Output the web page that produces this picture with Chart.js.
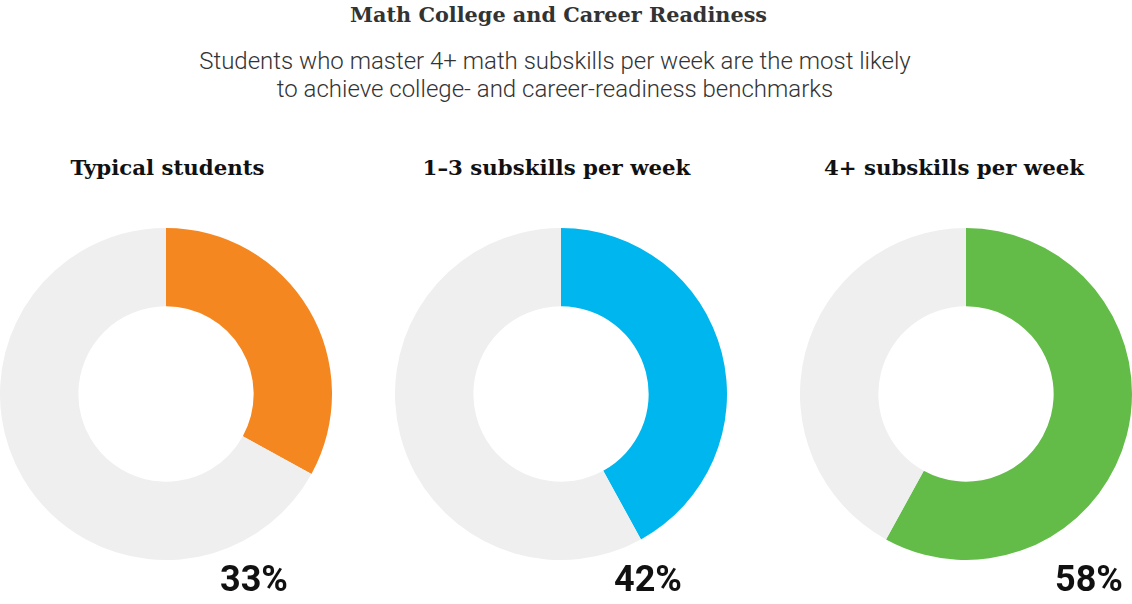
<!DOCTYPE html>
<html>
<head>
<meta charset="utf-8">
<script src="https://cdn.jsdelivr.net/npm/chart.js@4/dist/chart.umd.min.js"></script>
<style>
  html, body { margin: 0; padding: 0; background: #fff; }
  #wrap { position: relative; width: 1132px; height: 604px; overflow: hidden; }
  .title { position: absolute; left: 0; width: 1117px; top: 1px; text-align: center;
           font-family: "DejaVu Serif", serif; font-weight: bold; font-size: 20.8px; color: #333; line-height: 28px; }
  .sub { position: absolute; left: 0; width: 1110px; top: 47px; text-align: center;
         font-family: Roboto, sans-serif; font-weight: 300; font-size: 24px; color: #333; line-height: 28px; }
  .ctitle { position: absolute; top: 153px; width: 400px; text-align: center;
            font-family: "DejaVu Serif", serif; font-weight: bold; font-size: 21.3px; color: #111; line-height: 30px; }
  .pct { position: absolute; top: 558px; font-family: Roboto, sans-serif; font-weight: 700;
         font-size: 36px; color: #111; line-height: 42px; }
  canvas { position: absolute; }
</style>
</head>
<body>
<div id="wrap">
  <div class="title">Math College and Career Readiness</div>
  <div class="sub">Students who master 4+ math subskills per week are the most likely<br>to achieve college- and career-readiness benchmarks</div>
</div>
<script>
const categories = ["Typical students", "1–3 subskills per week", "4+ subskills per week"];
const readyPercent = [33, 42, 58];
const seriesColors = ["#F58720", "#00B6EE", "#62BC47"];
const restColor = "#EEEFEE";

// layout (pixels)
const centersX = [166, 560.5, 966];
const centerY = 394;
const radius = 166;
const titleCentersX = [167.5, 556.5, 954];
const pctLeft = [220, 614, 1055];

const wrap = document.getElementById('wrap');
categories.forEach((cat, i) => {
  const t = document.createElement('div');
  t.className = 'ctitle';
  t.textContent = cat;
  t.style.left = (titleCentersX[i] - 200) + 'px';
  wrap.appendChild(t);

  const c = document.createElement('canvas');
  c.width = radius * 2; c.height = radius * 2;
  c.style.width = (radius * 2) + 'px'; c.style.height = (radius * 2) + 'px';
  c.style.left = (centersX[i] - radius) + 'px';
  c.style.top = (centerY - radius) + 'px';
  wrap.appendChild(c);

  new Chart(c, {
    type: 'doughnut',
    data: {
      labels: ['Ready', 'Not ready'],
      datasets: [{
        data: [readyPercent[i], 100 - readyPercent[i]],
        backgroundColor: [seriesColors[i], restColor],
        borderWidth: 0,
        hoverOffset: 0
      }]
    },
    options: {
      responsive: false,
      animation: false,
      cutout: '52.8%',
      layout: { padding: 0 },
      plugins: { legend: { display: false }, tooltip: { enabled: false }, title: { display: false } }
    }
  });

  const p = document.createElement('div');
  p.className = 'pct';
  p.textContent = readyPercent[i] + '%';
  p.style.left = pctLeft[i] + 'px';
  wrap.appendChild(p);
});
</script>
</body>
</html>
